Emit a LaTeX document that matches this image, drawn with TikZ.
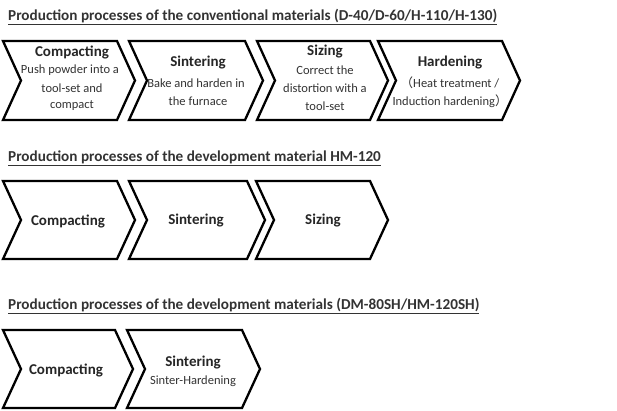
\documentclass[tikz,border=0pt]{standalone}
\usepackage{fontspec}
\setmainfont{Carlito}
\newfontfamily\cjk{Noto Sans CJK JP}
\tikzset{
  chev/.style={draw=black, line width=2.3pt, line join=miter, fill=white},
  ttl/.style={anchor=base west, inner sep=0pt, text=black!80, font=\fontsize{15.2}{17}\selectfont\bfseries},
  head/.style={inner sep=0pt, font=\fontsize{15}{17}\selectfont\bfseries, text=black!85},
  sub/.style={inner sep=0pt, font=\fontsize{12.5}{14}\selectfont, text=black!80},
}
% \chv{x0}{x1}{top}{bottom}
\newcommand\chv[4]{%
  \draw[chev] (#1,#3) -- (#2,#3) -- ({#2+18},{(#3+#4)/2}) -- (#2,#4) -- (#1,#4) -- ({#1+18},{(#3+#4)/2}) -- cycle;}
\begin{document}
\begin{tikzpicture}[x=1pt,y=-1pt]
\useasboundingbox (0,0) rectangle (617,410);
% Row 1
\node[ttl] (t1) at (8,20) {\underline{Production processes of the conventional materials (D-40/D-60/H-110/H-130)}};
\chv{3}{117}{41}{120}
\chv{129}{245}{41}{120}
\chv{257}{370}{41}{120}
\chv{378}{502}{41}{120}
\node[head] (a1) at (72,52) {Compacting};
\node[sub] (a1a) at (70,70) {Push powder into a};
\node[sub] (a1b) at (72,88) {tool-set and};
\node[sub] (a1c) at (72,106) {compact};
\node[head] (a2) at (198,63) {Sintering};
\node[sub] (a2a) at (196,83) {Bake and harden in};
\node[sub] (a2b) at (198,101) {the furnace};
\node[head] (a3) at (325,52) {Sizing};
\node[sub] (a3a) at (325,70) {Correct the};
\node[sub] (a3b) at (325,88) {distortion with a};
\node[sub] (a3c) at (325,106) {tool-set};
\node[head] (a4) at (450,63) {Hardening};
\node[sub] (a4a) at (450,83) {{\cjk （}Heat treatment /};
\node[sub] (a4b) at (450,101) {Induction hardening{\cjk ）}};
% Row 2
\node[ttl] (t2) at (8,161) {\underline{Production processes of the development material HM-120}};
\chv{3}{117}{181}{259}
\chv{129}{247}{181}{259}
\chv{256}{370}{181}{259}
\node[head] (b1) at (68,221) {Compacting};
\node[head] (b2) at (196,221) {Sintering};
\node[head] (b3) at (323,221) {Sizing};
% Row 3
\node[ttl] (t3) at (8,309) {\underline{Production processes of the development materials (DM-80SH/HM-120SH)}};
\chv{3}{115}{330}{408}
\chv{127}{242}{330}{408}
\node[head] (c1) at (66,370) {Compacting};
\node[head] (c2) at (193,362) {Sintering};
\node[sub] (c2a) at (193,381) {Sinter-Hardening};
\end{tikzpicture}
\end{document}
